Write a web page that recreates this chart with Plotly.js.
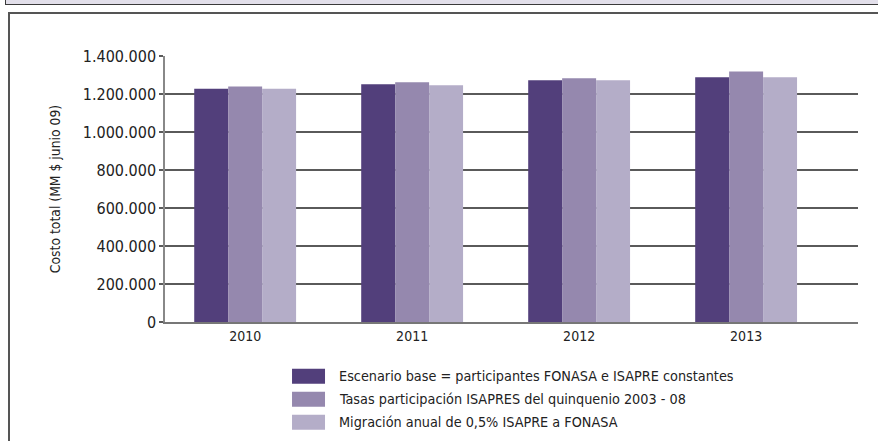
<!DOCTYPE html>
<html>
<head>
<meta charset="utf-8">
<script src="https://cdn.plot.ly/plotly-3.0.1.min.js"></script>
<style>
  html, body { margin: 0; padding: 0; background: #ffffff; }
  #wrap { position: relative; width: 878px; height: 441px; overflow: hidden; }
  #band { position: absolute; left: 5px; top: -2px; width: 880px; height: 6px;
          background: #e2dfea; border: 1px solid #3a3a3a; border-top: none; }
  #frame { position: absolute; left: 8px; top: 12px; width: 880px; height: 440px;
           border-left: 2px solid #555; border-top: 2px solid #555; }
  #chart { position: absolute; left: 0; top: 0; width: 878px; height: 441px; }
</style>
</head>
<body>
<div id="wrap">
  <div id="band"></div>
  <div id="frame"></div>
  <div id="chart"></div>
</div>
<script>
// ---- data ----
const years = ['2010', '2011', '2012', '2013'];
const seriesNames = [
  'Escenario base = participantes FONASA e ISAPRE constantes',
  'Tasas participación ISAPRES del quinquenio 2003 - 08',
  'Migración anual de 0,5% ISAPRE a FONASA'
];
const escenarioBase = [1228000, 1251000, 1272000, 1288000];
const tasasParticipacion = [1240000, 1262000, 1283000, 1319000];
const migracionAnual = [1228000, 1246000, 1272000, 1288000];
const yTickVals = [0, 200000, 400000, 600000, 800000, 1000000, 1200000, 1400000];
const yTickText = ['0', '200.000', '400.000', '600.000', '800.000', '1.000.000', '1.200.000', '1.400.000'];
const yAxisTitle = 'Costo total (MM $ junio 09)';

// ---- styles ----
const colors = ['#523f7b', '#9588ae', '#b4adc8'];
const fontFamily = '"DejaVu Sans Condensed", "Liberation Sans", sans-serif';
const textColor = '#222222';

const values = [escenarioBase, tasasParticipacion, migracionAnual];
const traces = values.map((v, i) => ({
  type: 'bar',
  x: years,
  y: v,
  name: seriesNames[i],
  marker: { color: colors[i], line: { width: 0 } },
  showlegend: false,
  hoverinfo: 'x+y+name'
}));

// custom legend (large swatches like the reference)
const legTop = -0.204, legStep = 0.0865, swH = 0.0282;
const shapes = [];
const annotations = [];
seriesNames.forEach((name, i) => {
  const yc = legTop - i * legStep;
  shapes.push({
    type: 'rect', xref: 'paper', yref: 'paper',
    x0: 0.1833, x1: 0.2309, y0: yc - swH, y1: yc + swH,
    fillcolor: colors[i], line: { width: 0 }
  });
  annotations.push({
    xref: 'paper', yref: 'paper', x: 0.2475, y: yc,
    xanchor: 'left', yanchor: 'middle', showarrow: false,
    text: name, font: { family: fontFamily, size: 14.3, color: textColor }
  });
});

const layout = {
  width: 878, height: 441,
  margin: { l: 165, r: 20, t: 56, b: 119, pad: 0 },
  paper_bgcolor: 'rgba(0,0,0,0)',
  plot_bgcolor: 'rgba(0,0,0,0)',
  font: { family: fontFamily, color: textColor },
  barmode: 'group',
  bargap: 0.39,
  bargroupgap: 0,
  showlegend: false,
  xaxis: {
    type: 'category',
    range: [-0.48, 3.67],
    showgrid: false,
    showline: true, linecolor: '#777777', linewidth: 2,
    ticks: '', tickfont: { family: fontFamily, size: 14, color: textColor },
    zeroline: false, fixedrange: true, automargin: false
  },
  yaxis: {
    range: [0, 1400000],
    tickvals: yTickVals, ticktext: yTickText,
    showgrid: true, gridcolor: '#5a5a5a', gridwidth: 1.5,
    showline: true, linecolor: '#888888', linewidth: 1.5,
    ticks: 'outside', ticklen: 4, tickcolor: '#5a5a5a', tickwidth: 1.5,
    tickfont: { family: fontFamily, size: 16, color: textColor },
    zeroline: false, fixedrange: true, automargin: false,
    title: { text: yAxisTitle, font: { family: fontFamily, size: 13.8, color: textColor }, standoff: 19 }
  },
  shapes: shapes,
  annotations: annotations
};

Plotly.newPlot('chart', traces, layout, { displayModeBar: false, staticPlot: false });
</script>
</body>
</html>
